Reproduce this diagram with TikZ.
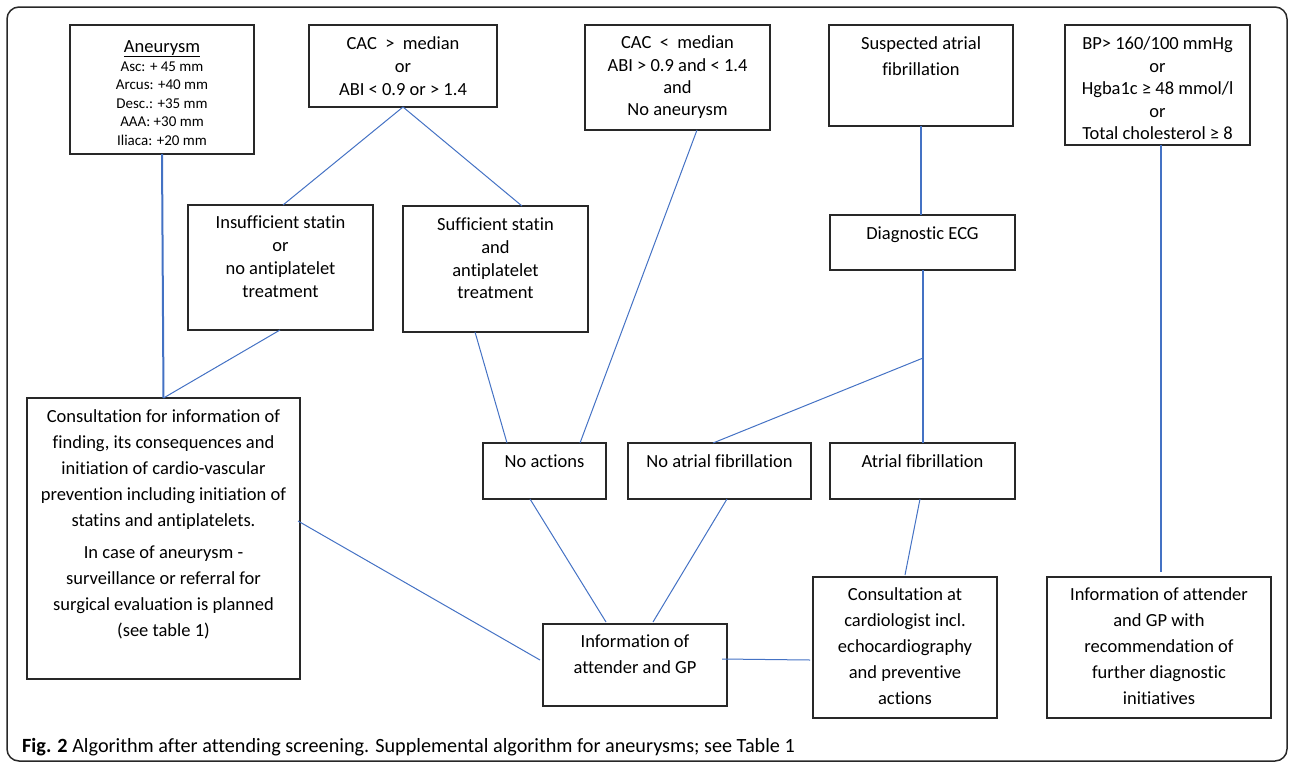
\documentclass[tikz,border=0pt]{standalone}
\usepackage{fontspec}
\setmainfont[Ligatures=NoCommon]{Carlito}
\usetikzlibrary{calc}
\definecolor{ln}{RGB}{68,114,196}
\definecolor{bx}{RGB}{40,40,40}
\begin{document}
\begin{tikzpicture}[x=1pt,y=-1pt,
  box/.style={draw=bx, line width=1.2pt, fill=white, anchor=north west, inner sep=0pt, outer sep=0pt},
  txt/.style={font=\fontsize{18.5}{#1}\selectfont, align=center, inner sep=0pt, anchor=north},
  txt/.default=23,
  conn/.style={draw=ln, line width=1pt},
  thick conn/.style={draw=ln, line width=2pt}]
\useasboundingbox (0,0) rectangle (1292,763);
\draw[bx, line width=1.5pt, rounded corners=12pt] (7,7) rectangle (1287,761);

% top row
\node[box, minimum width=184pt, minimum height=129pt,
  label={[font=\fontsize{18.5}{20}\selectfont, inner sep=0pt, anchor=north, yshift=-13pt]north:{\strut\underline{Aneurysm}}},
  label={[font=\fontsize{15}{18.5}\selectfont, align=center, inner sep=0pt, anchor=north, yshift=-33pt]north:{\strut Asc: + 45 mm\\Arcus: +40 mm\\Desc.: +35 mm\\AAA: +30 mm\\Iliaca: +20 mm}}]
  (an) at (70,25) {};
\node[box, minimum width=188pt, minimum height=82pt,
  label={[txt=23, yshift=-8.4pt]north:{\strut CAC \ > \ median\\or\\ABI < 0.9 or > 1.4}}]
  (cac1) at (309,25) {};
\node[box, minimum width=185pt, minimum height=105pt,
  label={[txt=22.3, yshift=-7.9pt]north:{\strut CAC \ < \ median\\ABI > 0.9 and < 1.4\\and\\No aneurysm}}]
  (cac2) at (585,25) {};
\node[box, minimum width=184pt, minimum height=101pt,
  label={[txt=26, yshift=-6.3pt]north:{\strut Suspected atrial\\fibrillation}}]
  (saf) at (829,25) {};
\node[box, minimum width=185pt, minimum height=120pt,
  label={[txt=22.5, yshift=-8.75pt]north:{\strut BP> 160/100 mmHg\\or\\Hgba1c ≥ 48 mmol/l\\or\\Total cholesterol ≥ 8}}]
  (bp) at (1065,25) {};

% second row
\node[box, minimum width=185pt, minimum height=125pt,
  label={[txt=23, yshift=-7.4pt]north:{\strut Insufficient statin\\or\\no antiplatelet\\treatment}}]
  (ins) at (188,205) {};
\node[box, minimum width=185pt, minimum height=126pt,
  label={[txt=22.7, yshift=-8.6pt]north:{\strut Sufficient statin\\and\\antiplatelet\\treatment}}]
  (suf) at (403,206) {};
\node[box, minimum width=185pt, minimum height=55pt,
  label={[txt=23, yshift=-8.4pt]north:{\strut Diagnostic ECG}}]
  (ecg) at (830,215) {};

% third row
\node[box, minimum width=273pt, minimum height=281pt,
  label={[txt=26, yshift=-6pt]north:{\strut Consultation for information of\\finding, its consequences and\\initiation of cardio-vascular\\prevention including initiation of\\statins and antiplatelets.\\[6pt]In case of aneurysm -\\surveillance or referral for\\surgical evaluation is planned\\(see table 1)}}]
  (cons) at (27,398) {};
\node[box, minimum width=123pt, minimum height=56pt,
  label={[txt=23, yshift=-8.4pt]north:{\strut No actions}}]
  (noact) at (483,443) {};
\node[box, minimum width=183pt, minimum height=56pt,
  label={[txt=23, yshift=-8.4pt]north:{\strut No atrial fibrillation}}]
  (noaf) at (628,443) {};
\node[box, minimum width=185pt, minimum height=56pt,
  label={[txt=23, yshift=-8.4pt]north:{\strut Atrial fibrillation}}]
  (af) at (830,443) {};

% bottom row
\node[box, minimum width=184pt, minimum height=82pt,
  label={[txt=26, yshift=-5.3pt]north:{\strut Information of\\attender and GP}}]
  (info) at (543,624) {};
\node[box, minimum width=184pt, minimum height=141pt,
  label={[txt=26, yshift=-5.3pt]north:{\strut Consultation at\\cardiologist incl.\\echocardiography\\and preventive\\actions}}]
  (card) at (813,577) {};
\node[box, minimum width=224pt, minimum height=141pt,
  label={[txt=26, yshift=-5.3pt]north:{\strut Information of attender\\and GP with\\recommendation of\\further diagnostic\\initiatives}}]
  (rec) at (1047,577) {};

% connectors
\draw[thick conn] (an.south) -- (cons.north);
\draw[conn] ([xshift=-0.5pt]ins.south) -- (cons.north);
\draw[conn] (cac1.south) -- ([xshift=2.5pt]ins.north);
\draw[conn] (cac1.south) -- ([xshift=26.5pt]suf.north);
\draw[conn] ([xshift=-20.5pt]suf.south) -- ([xshift=-37.5pt]noact.north);
\draw[conn] ([xshift=19.5pt]cac2.south) -- ([xshift=35.5pt]noact.north);
\draw[thick conn] (saf.south) -- ([xshift=-1.5pt]ecg.north);
\draw[thick conn] (ecg.south) -- (af.north);
\coordinate (jn) at ($(ecg.south)!0.51!(af.north)$);
\draw[conn] (jn) -- ([xshift=-6.5pt]noaf.north);
\coordinate (bpend) at ([xshift=2pt,yshift=5pt]rec.north);
\draw[thick conn] ([xshift=3.5pt]bp.south) -- (bpend);
\draw[conn] ([xshift=-2pt,yshift=17.5pt]cons.east) -- ([xshift=-3pt,yshift=5pt]info.west);
\draw[conn] ([xshift=-14.5pt]noact.south) -- ([xshift=-29pt,yshift=2pt]info.north);
\draw[conn] ([xshift=7.5pt]noaf.south) -- ([xshift=18pt,yshift=2pt]info.north);
\draw[conn] ([xshift=-2.5pt]af.south) -- ([yshift=2pt]card.north);
\draw[conn] ([xshift=-5pt,yshift=6pt]info.east) -- ([xshift=-3pt,yshift=-12.5pt]card.west);

% caption
\node[font=\fontsize{20.2}{24}\selectfont, anchor=base west, inner sep=0pt] (cap) at (22,752.3)
  {\textbf{Fig. 2} Algorithm after attending screening. Supplemental algorithm for aneurysms; see Table 1};
\end{tikzpicture}
\end{document}
